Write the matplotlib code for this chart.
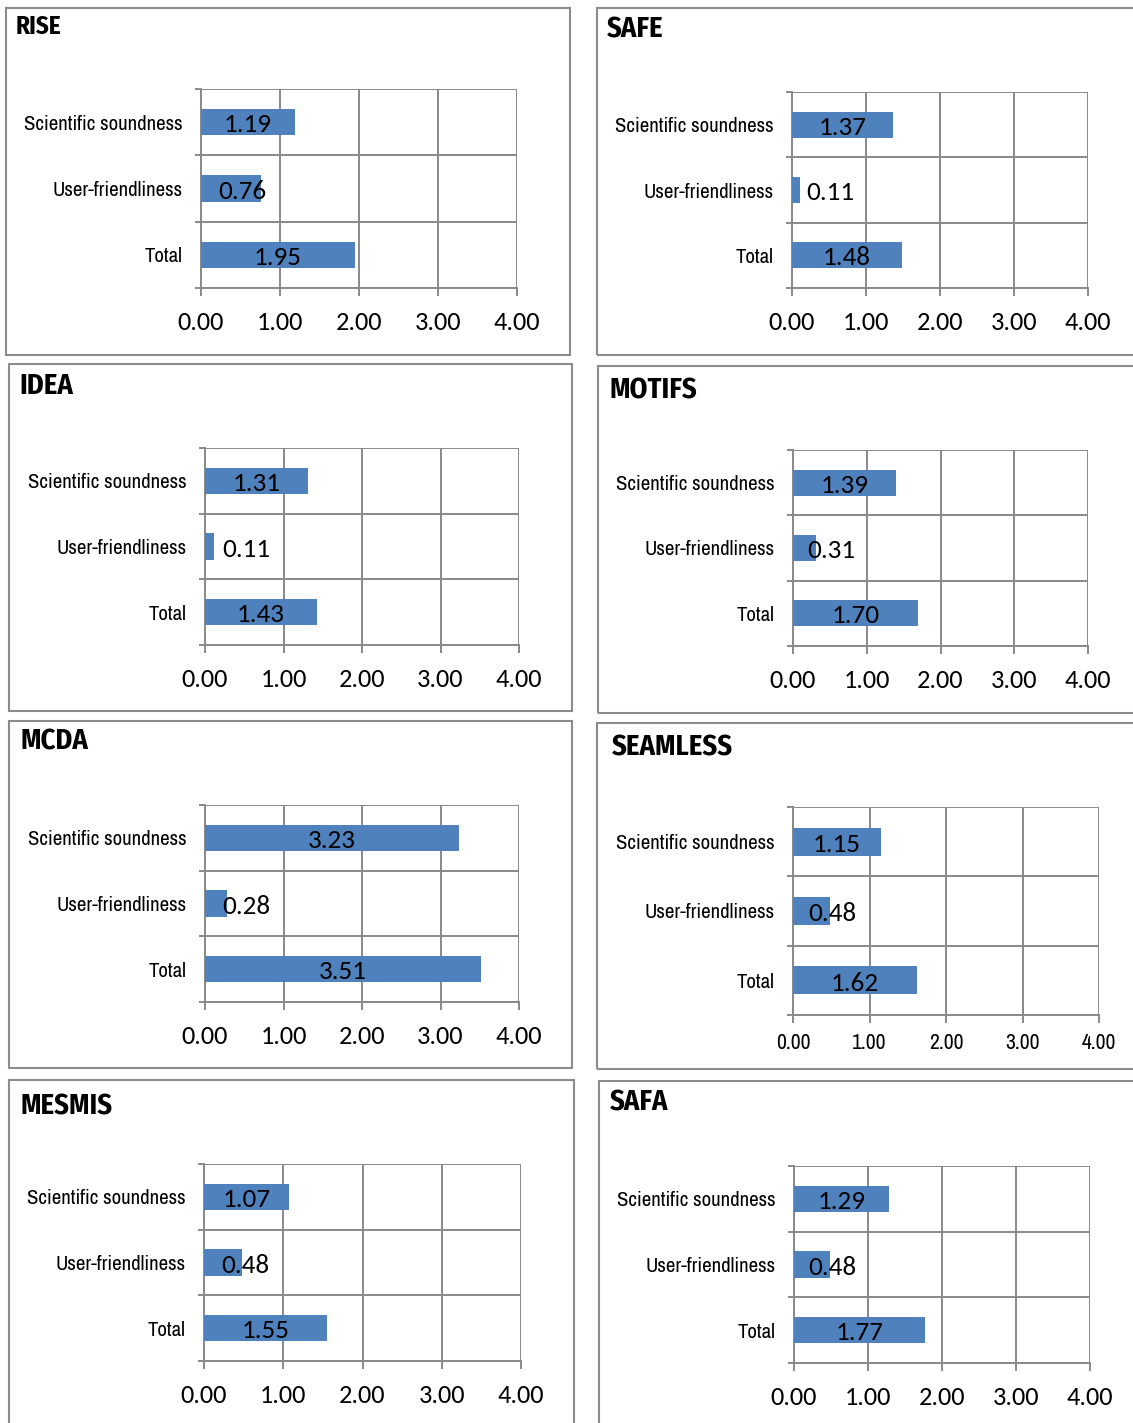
import matplotlib
matplotlib.use('Agg')
import matplotlib.pyplot as plt
from matplotlib.patches import Rectangle
from matplotlib import font_manager

# data
tools = ['RISE', 'SAFE', 'IDEA', 'MOTIFS', 'MCDA', 'SEAMLESS', 'MESMIS', 'SAFA']
sci_sound = [1.19, 1.37, 1.31, 1.39, 3.23, 1.15, 1.07, 1.29]
user_friendly = [0.76, 0.11, 0.11, 0.31, 0.28, 0.48, 0.48, 0.48]
total = [1.95, 1.48, 1.43, 1.70, 3.51, 1.62, 1.55, 1.77]
categories = ['Total', 'User-friendliness', 'Scientific soundness']
xticks = [0, 1, 2, 3, 4]

W, H = 1133, 1423
fig = plt.figure(figsize=(W / 100, H / 100), dpi=100)

# narrow font like Arial Narrow, numbers in Calibri-like Carlito
names = set(f.name for f in font_manager.fontManager.ttflist)
narrow = 'Archivo Narrow'
for cand in ['Liberation Sans Narrow', 'Arial Narrow', 'Archivo Narrow']:
    if cand in names:
        narrow = cand
        break
boldnarrow = 'Fira Sans Condensed' if 'Fira Sans Condensed' in names else narrow
numfont = 'Carlito' if 'Carlito' in names else 'Lato'

# layout in pixels: box (x0, y0, x1, y1), axes (xleft, xright, ytop, ybottom), title (x, y)
boxes = [(6, 8, 570, 355), (597, 8, 1140, 355), (9, 364, 572, 711), (598, 366, 1140, 713),
         (9, 721, 572, 1068), (597, 723, 1140, 1069), (9, 1080, 574, 1430), (599, 1081, 1140, 1430)]
axpos = [(201, 517, 89, 288), (792, 1088, 92, 288), (205, 519, 448, 645), (793, 1088, 450, 646),
         (205, 519, 805, 1002), (793, 1099, 807, 1015), (204, 521, 1164, 1361), (794, 1090, 1166, 1363)]
titlepos = [(16, 27), (607, 30), (19, 386), (609, 391), (20, 742), (612, 748), (20, 1107), (610, 1103)]

grid_c = '#898989'
bar_c = '#4f81bd'

for i, name in enumerate(tools):
    bx0, by0, bx1, by1 = boxes[i]
    fig.patches.append(Rectangle((bx0 / W, 1 - by1 / H), (bx1 - bx0) / W, (by1 - by0) / H,
                                 transform=fig.transFigure, fill=False, edgecolor='#8c8c8c', lw=1.5))
    tx, ty = titlepos[i]
    fig.text(tx / W, 1 - ty / H, name, fontsize=18 if i == 0 else 20.5, fontweight='bold',
             family=boldnarrow, va='center', ha='left')

    xl, xr, yt, yb = axpos[i]
    ax = fig.add_axes([xl / W, 1 - yb / H, (xr - xl) / W, (yb - yt) / H])
    vals = [total[i], user_friendly[i], sci_sound[i]]
    ax.barh(range(3), vals, height=0.4, color=bar_c, zorder=3)
    for y, v in enumerate(vals):
        ax.text(max(v / 2, 0.52), y - 0.04, f'{v:.2f}', ha='center', va='center', fontsize=19.5,
                family=numfont, zorder=4)
    ax.set_xlim(0, 4)
    ax.set_ylim(-0.5, 2.5)
    ax.set_xticks(xticks)
    small = name == 'SEAMLESS'
    ax.set_xticklabels([f'{t:.2f}' for t in xticks], fontsize=15.5 if small else 19,
                       family=narrow if small else numfont)
    ax.set_yticks(range(3))
    ax.set_yticklabels(categories, fontsize=15, family=narrow)
    ax.set_yticks([-0.5, 0.5, 1.5, 2.5], minor=True)
    ax.tick_params(axis='y', which='major', length=0, pad=13)
    ax.tick_params(axis='y', which='minor', length=4.5, width=1.4, color=grid_c, direction='out')
    ax.tick_params(axis='x', length=6, width=1.4, color=grid_c, pad=7 if small else 10.5)
    ax.grid(axis='x', which='major', color=grid_c, lw=1.4, zorder=1)
    ax.grid(axis='y', which='minor', color=grid_c, lw=1.4, zorder=1)
    for s in ['top', 'right']:
        ax.spines[s].set_visible(False)
    for s in ['left', 'bottom']:
        ax.spines[s].set_color(grid_c)
        ax.spines[s].set_linewidth(1.4)
    ax.set_axisbelow(True)

fig.savefig('out.png', dpi=100)
